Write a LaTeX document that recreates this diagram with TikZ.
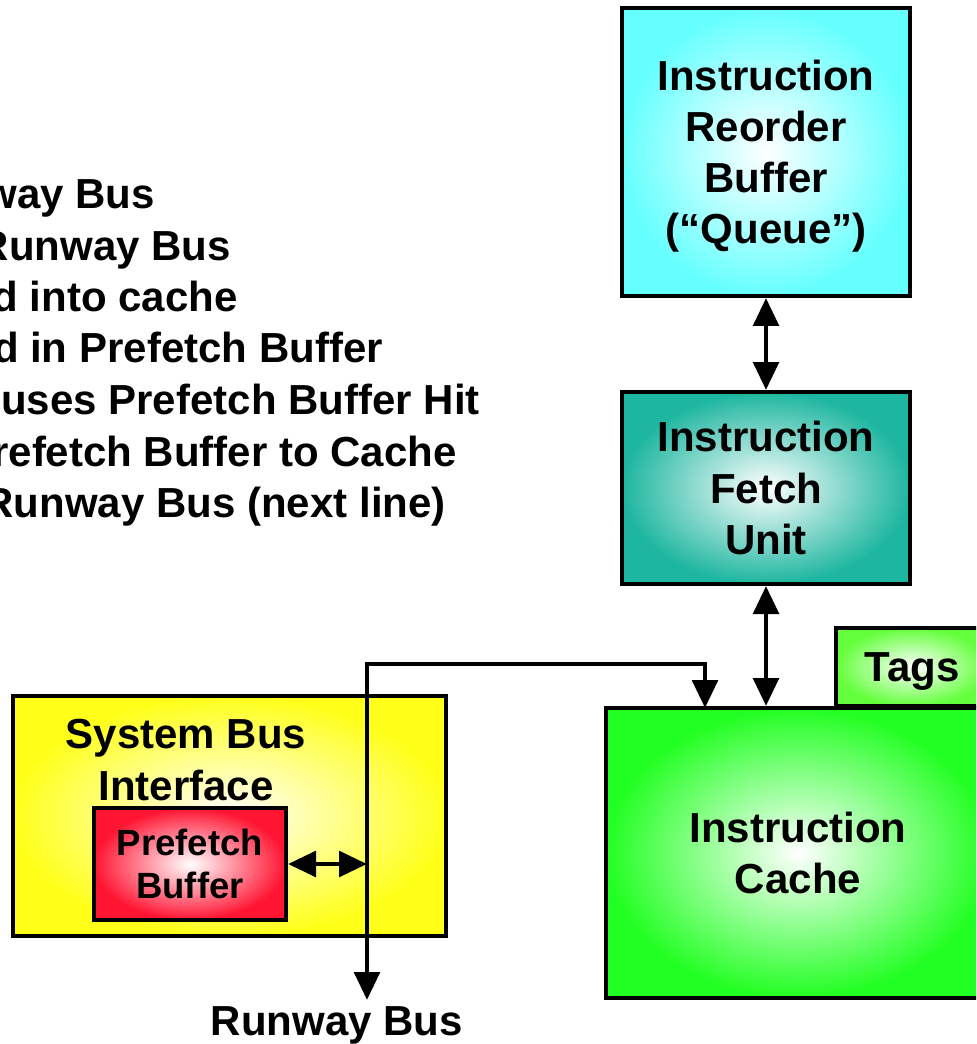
\documentclass[tikz,border=0pt]{standalone}
\usepackage{fontspec}
\setmainfont{Liberation Sans}
\usetikzlibrary{arrows.meta}
\definecolor{cyanbox}{RGB}{102,255,255}
\definecolor{tealbox}{RGB}{30,182,160}
\definecolor{tagbox}{RGB}{100,255,60}
\definecolor{cachebox}{RGB}{34,255,34}
\definecolor{yellowbox}{RGB}{255,255,26}
\definecolor{redbox}{RGB}{255,20,50}
\tikzset{
  blk/.style={draw=black, line width=3pt, inner sep=0pt, align=center, inner color=white},
  big/.style={font=\bfseries\fontsize{31.5}{38.3}\selectfont},
  small/.style={font=\bfseries\fontsize{27.4}{32.3}\selectfont},
  wire/.style={line width=3.6pt},
  twoway/.style={wire, {Triangle[width=19pt,length=21pt]}-{Triangle[width=19pt,length=21pt]}}
}
\begin{document}
\begin{tikzpicture}[x=0.75pt,y=-0.75pt]
\useasboundingbox (0,0) rectangle (976,1044);
\clip (0,0) rectangle (976,1044);
% notes, cut off on the left
\foreach \yb/\xe/\txt [count=\i] in {209/155/way Bus, 260.5/231/Runway Bus, 312/238/d into cache,
  363/383/d in Prefetch Buffer, 414.5/480/uses Prefetch Buffer Hit,
  466/457/refetch Buffer to Cache, 517/446/Runway Bus (next line)}
  \node[big, anchor=base east, inner sep=0pt] (note\i) at (\xe,\yb) {\txt};
% right column
\node[blk, big, outer color=cyanbox, minimum width=216pt, minimum height=216pt, text depth=0pt] (rob) at (766,152) {Instruction\\Reorder\\Buffer\\(“Queue”)};
\node[blk, big, outer color=tealbox, minimum width=216pt, minimum height=144pt] (ifu) at (766,488) {Instruction\\Fetch\\Unit};
\node[blk, big, outer color=tagbox, minimum width=114pt, minimum height=58.5pt, text depth=0pt] (tags) at (912,667) {Tags};
\node[blk, big, outer color=cachebox, minimum width=288pt, minimum height=217.5pt] (icache) at (798,853) {Instruction\\Cache};
% system bus interface
\node[blk, outer color=yellowbox, minimum width=324.75pt, minimum height=180pt] (sbi) at (229.5,816) {};
\node[big, align=center, inner sep=0pt] (sbitxt) at (186,760) {System Bus\\Interface};
\node[blk, small, outer color=redbox, minimum width=144pt, minimum height=84pt] (pfb) at (190,864) {Prefetch\\Buffer};
% runway bus
\coordinate (rwy) at (367,1000);
\coordinate (bend) at (367,664);
\coordinate (cin) at (705,708);
\draw[twoway] (rwy) -- (bend) -| (cin);
\node[big, anchor=base, inner sep=0pt] (rwylbl) at (337,1035) {Runway Bus};
\draw[twoway] (pfb.east) -- (pfb.east -| rwy);
\draw[twoway] (rob.south) -- (ifu.north);
\draw[twoway] (ifu.south) -- (ifu.south |- icache.north);
\end{tikzpicture}
\end{document}
